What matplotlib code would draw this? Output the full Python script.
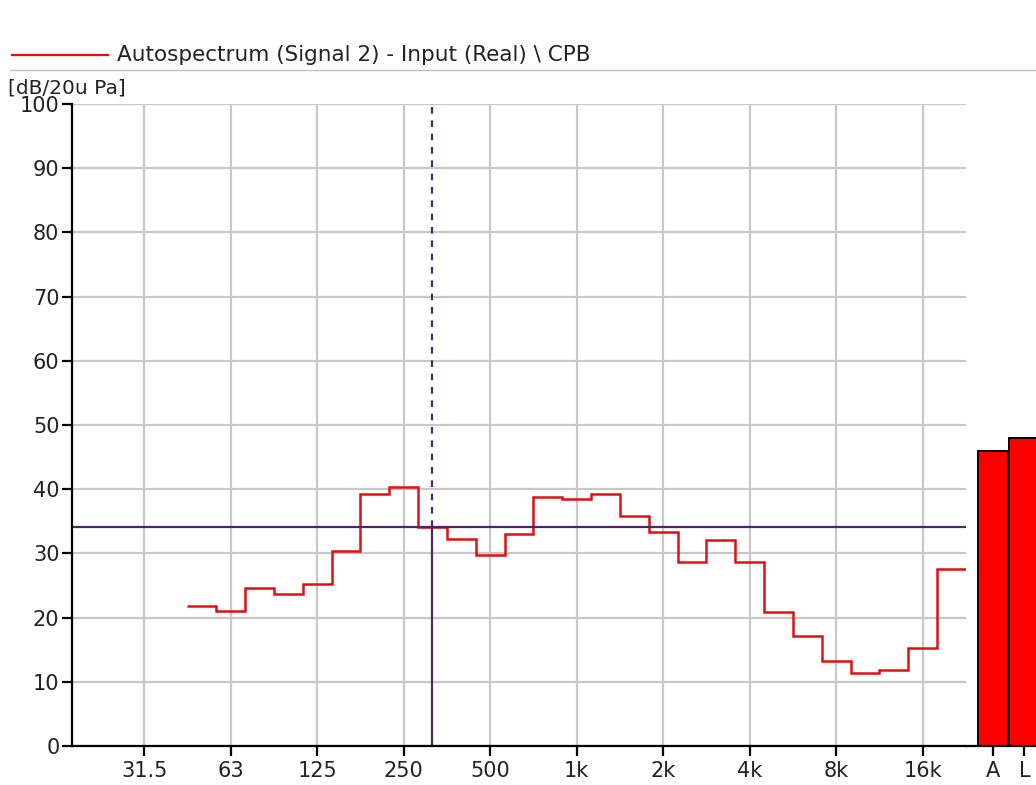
import numpy as np
import matplotlib
matplotlib.use('Agg')
import matplotlib.pyplot as plt
from matplotlib.lines import Line2D

# 1/3 octave band levels, 50 Hz .. 20 kHz  [dB re 20 uPa]
bands = ['50', '63', '80', '100', '125', '160', '200', '250', '315', '400',
         '500', '630', '800', '1k', '1.25k', '1.6k', '2k', '2.5k', '3.15k', '4k',
         '5k', '6.3k', '8k', '10k', '12.5k', '16k', '20k']
levels = [21.8, 21.1, 24.6, 23.7, 25.2, 30.4, 39.2, 40.4, 34.1, 32.2,
          29.7, 33.0, 38.8, 38.4, 39.2, 35.9, 33.3, 28.6, 32.1, 28.6,
          20.8, 17.1, 13.3, 11.4, 11.8, 15.2, 27.6]

# octave labels on the x axis
octave_labels = ['31.5', '63', '125', '250', '500', '1k', '2k', '4k', '8k', '16k']
octave_index = [-15, -12, -9, -6, -3, 0, 3, 6, 9, 12]   # third-octave index re 1 kHz

# overall levels (A weighted, linear)
total_labels = ['A', 'L']
total_levels = [46.0, 48.0]

# cursor
cursor_band = '315'
cursor_level = 34.1

first_index = -13   # 50 Hz
edges = np.arange(len(levels) + 1) + first_index - 0.5
cursor_x = first_index + bands.index(cursor_band)

W, H = 1036, 785
fig = plt.figure(figsize=(W / 100, H / 100), dpi=100)
plt.rcParams['font.family'] = ['DejaVu Sans']

grid_col = '#c8c8c8'
cur_col = '#4a2860'
red = '#e01010'
txt = '#222222'
fs = 15

ax = fig.add_axes([72 / W, (H - 746) / H, (966 - 72) / W, (746 - 104) / H])
ax.set_xlim(-17.5, 13.5)
ax.set_ylim(0, 100)
ax.set_xticks(octave_index)
ax.set_xticklabels(octave_labels)
ax.set_yticks(np.arange(0, 101, 10))
ax.grid(True, color=grid_col, linewidth=1.6)
ax.set_axisbelow(True)
for s in ['top', 'right']:
    ax.spines[s].set_visible(False)
ax.spines['left'].set_linewidth(1.6)
ax.spines['bottom'].set_linewidth(1.6)
ax.tick_params(axis='both', labelsize=fs, length=7, width=1.6, colors='black',
               labelcolor=txt)
ax.tick_params(axis='y', pad=2)

ax.stairs(levels, edges, baseline=None, color=red, linewidth=1.8)

# cursor lines
ax.axhline(cursor_level, color=cur_col, linewidth=1.6)
ax.plot([cursor_x, cursor_x], [0, cursor_level], color=cur_col, linewidth=1.6)
ax.plot([cursor_x, cursor_x], [cursor_level, 100], color=cur_col, linewidth=1.6,
        linestyle=(0, (3, 3)))

# overall level bars
ax2 = fig.add_axes([966 / W, (H - 746) / H, (1036 - 966) / W, (746 - 104) / H])
ax2.set_xlim(-0.83, 1.36)
ax2.set_ylim(0, 100)
ax2.bar(range(len(total_levels)), total_levels, width=0.94, color='#ff0000',
        edgecolor='black', linewidth=1.4)
ax2.set_xticks(range(len(total_labels)))
ax2.set_xticklabels(total_labels)
ax2.set_yticks([])
for s in ['top', 'right', 'left']:
    ax2.spines[s].set_visible(False)
ax2.spines['bottom'].set_linewidth(1.6)
ax2.tick_params(axis='x', labelsize=fs, length=7, width=1.6, labelcolor=txt)

# legend header
fig.add_artist(Line2D([12 / W, 108 / W], [1 - 55 / H, 1 - 55 / H], color=red, linewidth=1.6))
fig.text(117 / W, 1 - 55 / H, 'Autospectrum (Signal 2) - Input (Real) \\ CPB',
         fontsize=fs + 0.5, va='center', ha='left', color=txt)
fig.add_artist(Line2D([10 / W, 1], [1 - 70 / H, 1 - 70 / H], color='#b8c4cc', linewidth=1.0))
fig.text(8 / W, 1 - 88 / H, '[dB/20u Pa]', fontsize=fs - 0.5, va='center', ha='left',
         color=txt)

fig.savefig('out.png', dpi=100)
